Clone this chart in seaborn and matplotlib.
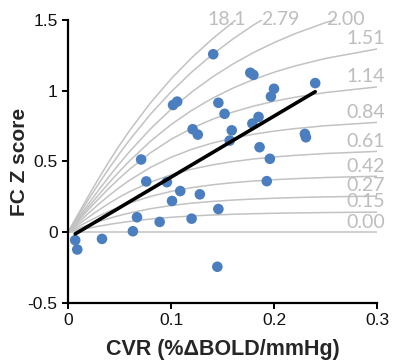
import matplotlib
matplotlib.use("Agg")
import matplotlib.pyplot as plt
import seaborn as sns
import pandas as pd

# ---------------- data ----------------
cvr_grid = [0, 0.005, 0.01, 0.02, 0.03, 0.04, 0.05, 0.06, 0.08, 0.10,
            0.12, 0.14, 0.16, 0.18, 0.20, 0.22, 0.25, 0.30]

curve_000 = [0, 0, 0, 0, 0, 0, 0, 0, 0, 0, 0, 0, 0, 0, 0, 0, 0, 0]
curve_015 = [0, 0.0074, 0.0148, 0.0292, 0.0428, 0.0553, 0.0667, 0.0767, 0.0933, 0.1057,
             0.1149, 0.1217, 0.1269, 0.1309, 0.1340, 0.1364, 0.1391, 0.1422]
curve_027 = [0, 0.0132, 0.0262, 0.0517, 0.0759, 0.0982, 0.1184, 0.1365, 0.1662, 0.1886,
             0.2054, 0.2179, 0.2274, 0.2347, 0.2403, 0.2448, 0.2498, 0.2555]
curve_042 = [0, 0.0198, 0.0395, 0.0780, 0.1146, 0.1485, 0.1794, 0.2071, 0.2532, 0.2884,
             0.3150, 0.3350, 0.3503, 0.3620, 0.3712, 0.3784, 0.3867, 0.3960]
curve_061 = [0, 0.0272, 0.0542, 0.1071, 0.1576, 0.2049, 0.2483, 0.2876, 0.3540, 0.4056,
             0.4453, 0.4757, 0.4991, 0.5174, 0.5317, 0.5431, 0.5563, 0.5712]
curve_084 = [0, 0.0343, 0.0683, 0.1353, 0.1997, 0.2604, 0.3169, 0.3687, 0.4580, 0.5294,
             0.5858, 0.6300, 0.6648, 0.6924, 0.7144, 0.7321, 0.7527, 0.7764]
curve_114 = [0, 0.0407, 0.0812, 0.1611, 0.2384, 0.3122, 0.3817, 0.4465, 0.5611, 0.6563,
             0.7342, 0.7976, 0.8492, 0.8911, 0.9254, 0.9536, 0.9872, 1.0268]
curve_151 = [0, 0.0453, 0.0905, 0.1798, 0.2668, 0.3505, 0.4303, 0.5057, 0.6425, 0.7604,
             0.8609, 0.9461, 1.0181, 1.0790, 1.1305, 1.1743, 1.2283, 1.2948]
curve_200 = [0, 0.0510, 0.1018, 0.2023, 0.3004, 0.3952, 0.4858, 0.5719, 0.7298, 0.8687,
             0.9901, 1.0960, 1.1884, 1.2692, 1.3399, 1.4020, 1.4816, 1.5857]
curve_279 = [0, 0.0587, 0.1172, 0.2327, 0.3451, 0.4533, 0.5565, 0.6543, 0.8334, 0.9915,
             1.1312, 1.2549, 1.3651, 1.4638, 1.5525, 1.6329]
curve_181 = [0, 0.0653, 0.1304, 0.2586, 0.3829, 0.5018, 0.6144, 0.7206, 0.9136, 1.0831,
             1.2325, 1.3653, 1.4841, 1.5915]

curve_labels = ["0.00", "0.15", "0.27", "0.42", "0.61", "0.84", "1.14", "1.51",
                "2.00", "2.79", "18.1"]
curve_values = [curve_000, curve_015, curve_027, curve_042, curve_061, curve_084,
                curve_114, curve_151, curve_200, curve_279, curve_181]

cvr_points = [0.007, 0.009, 0.033, 0.063, 0.067, 0.071, 0.076, 0.089, 0.096, 0.101,
              0.109, 0.120, 0.128, 0.146, 0.145, 0.121, 0.126, 0.159, 0.157, 0.179,
              0.186, 0.196, 0.193, 0.230, 0.231, 0.185, 0.177, 0.180, 0.200, 0.197,
              0.240, 0.146, 0.152, 0.141, 0.102, 0.106]
fc_points = [-0.056, -0.122, -0.047, 0.007, 0.106, 0.514, 0.359, 0.073, 0.354, 0.221,
             0.291, 0.096, 0.268, 0.164, -0.244, 0.728, 0.690, 0.720, 0.648, 0.768,
             0.601, 0.519, 0.361, 0.695, 0.671, 0.815, 1.127, 1.112, 1.014, 0.959,
             1.054, 0.915, 0.837, 1.258, 0.899, 0.923]

fit_cvr = [0.007, 0.240]
fit_fc = [-0.012, 0.993]

x_ticks = [0, 0.1, 0.2, 0.3]
x_tick_labels = ["0", "0.1", "0.2", "0.3"]
y_ticks = [-0.5, 0, 0.5, 1, 1.5]
y_tick_labels = ["-0.5", "0", "0.5", "1", "1.5"]

x_label = "CVR (%ΔBOLD/mmHg)"
y_label = "FC Z score"

# ---------------- drawing ----------------
sns.set_theme(style="white")
plt.rcParams["font.family"] = ["Liberation Sans", "DejaVu Sans"]

fig = plt.figure(figsize=(4.0, 3.64), dpi=100)
ax = fig.add_axes([0.17, 0.1676, 0.7725, 0.7775])

curve_color = "#C2C2C2"
label_color = "#BDBDBD"

for lab, vals in zip(curve_labels, curve_values):
    df = pd.DataFrame({"cvr": cvr_grid[:len(vals)], "z": vals})
    sns.lineplot(data=df, x="cvr", y="z", ax=ax, color=curve_color,
                 linewidth=1.1, estimator=None, sort=False, zorder=1)

# right-hand labels sit on the curve ends
right_labels = curve_labels[:8]
for lab, vals in zip(right_labels, curve_values[:8]):
    ax.text(0.3078, vals[-1] + 0.012, lab, ha="right", va="bottom",
            fontsize=14, color=label_color, family=["Lato", "DejaVu Sans"],
            clip_on=False)

# top labels where the steep curves leave the plot
top_pos = {"18.1": 0.135, "2.79": 0.188, "2.00": 0.251}
for lab, xpos in top_pos.items():
    ax.text(xpos, 1.445, lab, ha="left", va="bottom", fontsize=14,
            color=label_color, family=["Lato", "DejaVu Sans"], clip_on=False)

pts = pd.DataFrame({"cvr": cvr_points, "fc": fc_points})
sns.scatterplot(data=pts, x="cvr", y="fc", ax=ax, color="#4A7EBF",
                s=58, edgecolor="none", linewidth=0, zorder=3)

fit = pd.DataFrame({"cvr": fit_cvr, "fc": fit_fc})
sns.lineplot(data=fit, x="cvr", y="fc", ax=ax, color="black", linewidth=2.6,
             estimator=None, zorder=4)

ax.set_xlim(0, 0.3)
ax.set_ylim(-0.5, 1.5)
ax.set_xticks(x_ticks)
ax.set_xticklabels(x_tick_labels)
ax.set_yticks(y_ticks)
ax.set_yticklabels(y_tick_labels)

for side in ["top", "right"]:
    ax.spines[side].set_visible(False)
for side in ["left", "bottom"]:
    ax.spines[side].set_color("black")
    ax.spines[side].set_linewidth(1.6)

ax.tick_params(axis="both", which="major", direction="out", length=4.5,
               width=1.4, color="black", labelsize=12.5, labelcolor="#111111",
               bottom=True, left=True, pad=3)

ax.set_xlabel(x_label, fontsize=15.5, fontweight="bold")
ax.set_ylabel(y_label, fontsize=15, fontweight="bold")
ax.xaxis.set_label_coords(0.5, -0.128)
ax.yaxis.set_label_coords(-0.125, 0.5)

fig.savefig("out.png", dpi=100)
